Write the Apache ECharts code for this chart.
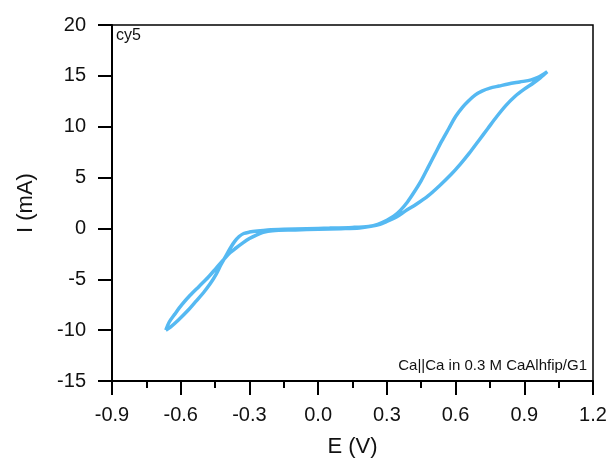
<!DOCTYPE html>
<html>
<head>
<meta charset="utf-8">
<script src="https://cdn.jsdelivr.net/npm/echarts@6/dist/echarts.min.js"></script>
<style>
html,body{margin:0;padding:0;background:#fff;}
#chart{width:614px;height:467px;}
</style>
</head>
<body>
<div id="chart"></div>
<script>
// Forward scan (from negative vertex up to positive vertex)
const eForward = [-0.665,-0.650,-0.625,-0.595,-0.560,-0.520,-0.480,-0.445,-0.410,-0.385,-0.360,-0.330,-0.300,-0.270,-0.240,-0.200,-0.100,0.000,0.100,0.180,0.230,0.270,0.300,0.340,0.380,0.430,0.480,0.530,0.580,0.620,0.660,0.700,0.740,0.780,0.820,0.860,0.900,0.940,0.970,1.000];
const iForward = [-10.0,-9.2,-8.4,-7.5,-6.6,-5.7,-4.8,-3.9,-3.0,-2.4,-1.95,-1.45,-1.0,-0.65,-0.38,-0.22,-0.15,-0.08,-0.02,0.05,0.2,0.4,0.7,1.1,1.7,2.4,3.2,4.2,5.3,6.3,7.4,8.6,9.8,11.0,12.1,13.0,13.7,14.3,14.8,15.4];
// Reverse scan (from positive vertex back to negative vertex)
const eReverse = [1.000,0.960,0.930,0.880,0.830,0.790,0.750,0.715,0.685,0.655,0.630,0.600,0.570,0.540,0.510,0.480,0.450,0.420,0.390,0.360,0.330,0.300,0.260,0.220,0.150,0.050,-0.050,-0.150,-0.220,-0.265,-0.300,-0.325,-0.345,-0.365,-0.385,-0.405,-0.425,-0.445,-0.470,-0.500,-0.535,-0.570,-0.610,-0.645,-0.665];
const iReverse = [15.4,14.85,14.6,14.4,14.2,14.0,13.8,13.5,13.1,12.5,11.9,11.0,9.8,8.6,7.3,6.0,4.7,3.6,2.6,1.8,1.2,0.8,0.4,0.2,0.1,0.03,-0.02,-0.08,-0.15,-0.25,-0.36,-0.5,-0.8,-1.3,-2.0,-2.8,-3.6,-4.5,-5.4,-6.3,-7.2,-8.1,-9.0,-9.7,-10.0];

const xTicks = {min:-0.9, max:1.2, step:0.3};
const yTicks = {min:-15, max:20, step:5};
const cycleLabel = 'cy5';
const cellLabel = 'Ca||Ca in 0.3 M CaAlhfip/G1';

const loop = eForward.map((e,k)=>[e,iForward[k]]).concat(eReverse.map((e,k)=>[e,iReverse[k]]));

const chart = echarts.init(document.getElementById('chart'), null, {renderer:'canvas'});
const font = 'Arial, "Liberation Sans", sans-serif';
chart.setOption({
  animation:false,
  backgroundColor:'#fff',
  grid:{left:112,right:21,top:25,bottom:86,show:true,borderColor:'#000',borderWidth:1.5,backgroundColor:'transparent'},
  xAxis:{
    type:'value',min:xTicks.min,max:xTicks.max,interval:xTicks.step,
    name:'E (V)',nameLocation:'middle',nameGap:55,
    nameTextStyle:{fontFamily:font,fontSize:22,color:'#111'},
    axisLine:{show:true,onZero:false,lineStyle:{color:'#000',width:2}},
    axisTick:{show:true,inside:false,length:14,lineStyle:{color:'#000',width:2}},
    minorTick:{show:true,splitNumber:2,length:7,lineStyle:{color:'#000',width:2}},
    axisLabel:{margin:24,fontFamily:font,fontSize:20,color:'#111',formatter:v=>v.toFixed(1)},
    splitLine:{show:false}
  },
  yAxis:{
    type:'value',min:yTicks.min,max:yTicks.max,interval:yTicks.step,
    name:'I (mA)',nameLocation:'middle',nameGap:75,
    nameTextStyle:{fontFamily:font,fontSize:22,color:'#111'},
    axisLine:{show:true,onZero:false,lineStyle:{color:'#000',width:2}},
    axisTick:{show:true,inside:false,length:14,lineStyle:{color:'#000',width:2}},
    axisLabel:{margin:26,fontFamily:font,fontSize:20,color:'#111'},
    splitLine:{show:false}
  },
  graphic:[
    {type:'text',left:116,top:28,style:{text:cycleLabel,font:'16px '+font,fill:'#111'}},
    {type:'text',right:27,top:358,style:{text:cellLabel,font:'15px '+font,fill:'#111'}}
  ],
  series:[{
    type:'line',data:loop,showSymbol:false,smooth:0.3,
    lineStyle:{color:'#55B9F2',width:3.5},
    clip:true
  }]
});
</script>
</body>
</html>
